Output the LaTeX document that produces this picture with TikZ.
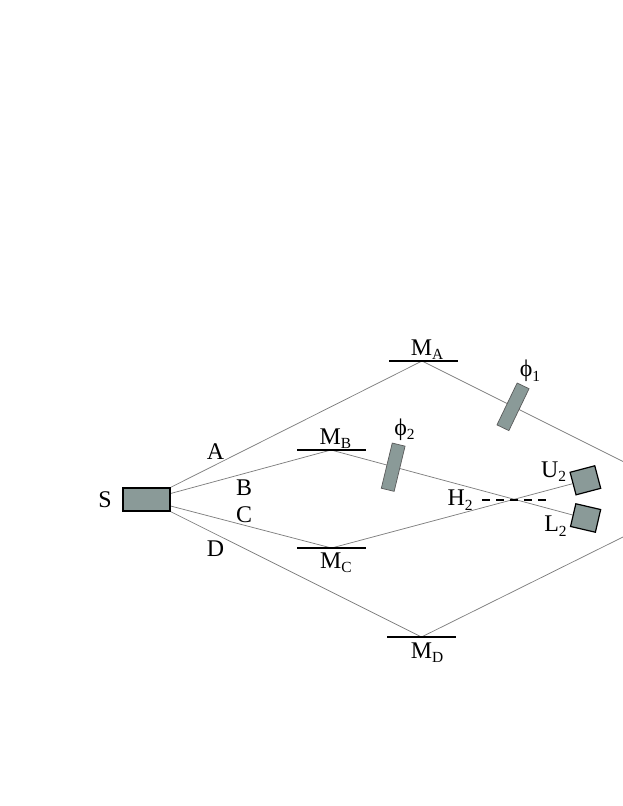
\documentclass[tikz,border=0pt]{standalone}
\usepackage{fontspec}
\setmainfont{Liberation Serif}
\usetikzlibrary{calc}
\pgfdeclarelayer{beams}
\pgfsetlayers{beams,main}
\definecolor{boxgray}{HTML}{8A9A98}
\definecolor{beamgray}{HTML}{808080}
\newcommand{\subl}[1]{\raisebox{-4.3bp}{\fontsize{15.5}{15.5}\selectfont #1}}
\tikzset{
  beam/.style={draw=beamgray,line width=0.75bp},
  lab/.style={inner sep=0pt,anchor=base,font=\fontsize{24}{24}\selectfont,text=black},
  mirror/.style={fill=black,draw=none,inner sep=0pt,minimum width=69bp,minimum height=1.8bp},
  srcbox/.style={draw=black,line width=1.2bp,fill=boxgray,inner sep=0pt,minimum width=47bp,minimum height=23bp},
  plate/.style={draw=beamgray!70!black,line width=0.7bp,fill=boxgray,inner sep=0pt,minimum width=46.5bp,minimum height=13.2bp},
  detector/.style={draw=black,line width=1.2bp,fill=boxgray,inner sep=0pt,minimum width=25.5bp,minimum height=23.3bp},
  splitter/.style={draw=black,line width=2bp,dash pattern=on 8bp off 6bp}
}
\begin{document}
\begin{tikzpicture}[x=1bp,y=-1bp]
\useasboundingbox (0,0) rectangle (623,806);
% source and optics
\node[srcbox] (S) at (146.5,499.5) {};
\node[mirror] (MA) at (423.5,361) {};
\node[mirror] (MB) at (331,450) {};
\node[mirror] (MC) at (331.5,548) {};
\node[mirror] (MD) at (421.5,637) {};
\node[plate,rotate=64.3] (P1) at (513,406.8) {};
\node[plate,rotate=76.4] (P2) at (393.2,467.2) {};
\node[detector,rotate=14.8] (U) at (585.4,480.3) {};
\node[detector,rotate=-13.1] (L) at (585.6,518) {};
% free ends
\coordinate (EA) at (623,461.5);
\coordinate (ED) at (623,537);
\coordinate (HL) at (482,499.5);
\coordinate (HR) at (546,499.5);
% beams
\begin{pgfonlayer}{beams}
\draw[beam] (S.north east) -- ([xshift=-1.5bp]MA.center) -- (EA);
\draw[beam] ([yshift=6bp]S.east) -- (MB.center) -- (L.west);
\draw[beam] ([yshift=-6.5bp]S.east) -- (MC.center) -- (U.west);
\draw[beam] (S.south east) -- (MD.center) -- (ED);
\end{pgfonlayer}
\draw[splitter] (HL) -- (HR);
% labels
\node[lab] (tS) at (105,507) {S};
\node[lab] (tA) at (215.5,459) {A};
\node[lab] (tB) at (244,495) {B};
\node[lab] (tC) at (244,522) {C};
\node[lab] (tD) at (215.5,556) {D};
\node[lab] (tMA) at (427,355) {M\subl{A}};
\node[lab] (tMB) at (335.5,444) {M\subl{B}};
\node[lab] (tMC) at (336,568) {M\subl{C}};
\node[lab] (tMD) at (427,658) {M\subl{D}};
\node[lab] (tP1) at (530,376.7) {ϕ\subl{1}};
\node[lab] (tP2) at (404.5,435) {ϕ\subl{2}};
\node[lab] (tU) at (553.5,477.3) {U\subl{2}};
\node[lab] (tL) at (555.5,531.7) {L\subl{2}};
\node[lab] (tH) at (460,505.7) {H\subl{2}};
\end{tikzpicture}
\end{document}
